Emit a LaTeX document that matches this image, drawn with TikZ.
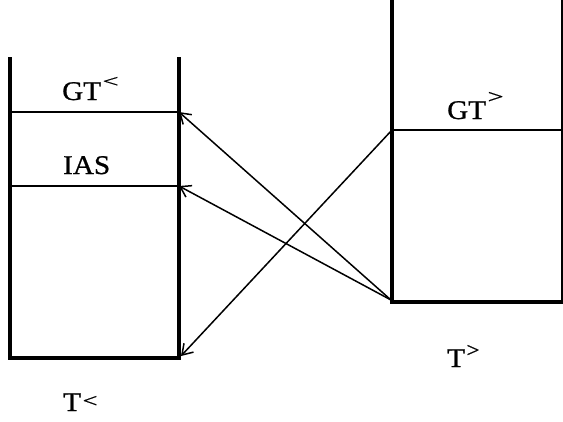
\documentclass[tikz,border=0pt]{standalone}
\usepackage{fontspec}
\setmainfont{Liberation Serif}[FakeStretch=1.08,FakeBold=0.8]
\usetikzlibrary{arrows.meta}
\newcommand{\mysup}[4]{\hspace{1.5pt}\raisebox{#1pt}{\resizebox{#2pt}{#3pt}{#4}}}
\begin{document}
\begin{tikzpicture}[x=1pt,y=-1pt,
  wall/.style={line width=4pt},
  sep/.style={line width=1.3pt},
  conn/.style={line width=1.5pt,-{Straight Barb[length=10pt,width=13pt,line width=1.5pt]}},
  lbl/.style={font=\fontsize{27}{29}\selectfont,inner sep=0pt,anchor=base west}]
\useasboundingbox (0,0) rectangle (563,421);
% left box
\coordinate (L1) at (10,57);
\coordinate (L2) at (10,358);
\coordinate (L3) at (179,358);
\coordinate (L4) at (179,57);
\draw[wall] (L1) -- (L2) -- (L3) -- (L4);
\coordinate (Lg) at (179,112);
\coordinate (Li) at (179,186);
\coordinate (Lb) at (181,356);
\draw[sep] (10,112) -- (Lg);
\draw[sep] (10,186) -- (Li);
% right box
\coordinate (R1) at (392,0);
\coordinate (R2) at (392,302);
\coordinate (R3) at (563,302);
\draw[wall] (R1) -- (R2) -- (R3);
\draw[sep] (562,0) -- (562,302);
\coordinate (Rg) at (392,130);
\draw[sep] (Rg) -- (562,130);
\coordinate (Rb) at (391,300);
% labels
\node[lbl] (gtl) at (62,100) {GT\mysup{13}{16}{10}{<}};
\node[lbl] (ias) at (63,174) {IAS};
\node[lbl] (tl) at (63,411) {T\mysup{4}{15}{11}{<}};
\node[lbl] (gtr) at (447,119) {GT\mysup{16}{16}{11}{>}};
\node[lbl] (tr) at (447,367) {T\mysup{10}{13}{12}{>}};
% connectors
\draw[conn] (Rb) -- (Lg);
\draw[conn] (Rb) -- (Li);
\draw[conn] (Rg) -- (Lb);
\end{tikzpicture}
\end{document}
